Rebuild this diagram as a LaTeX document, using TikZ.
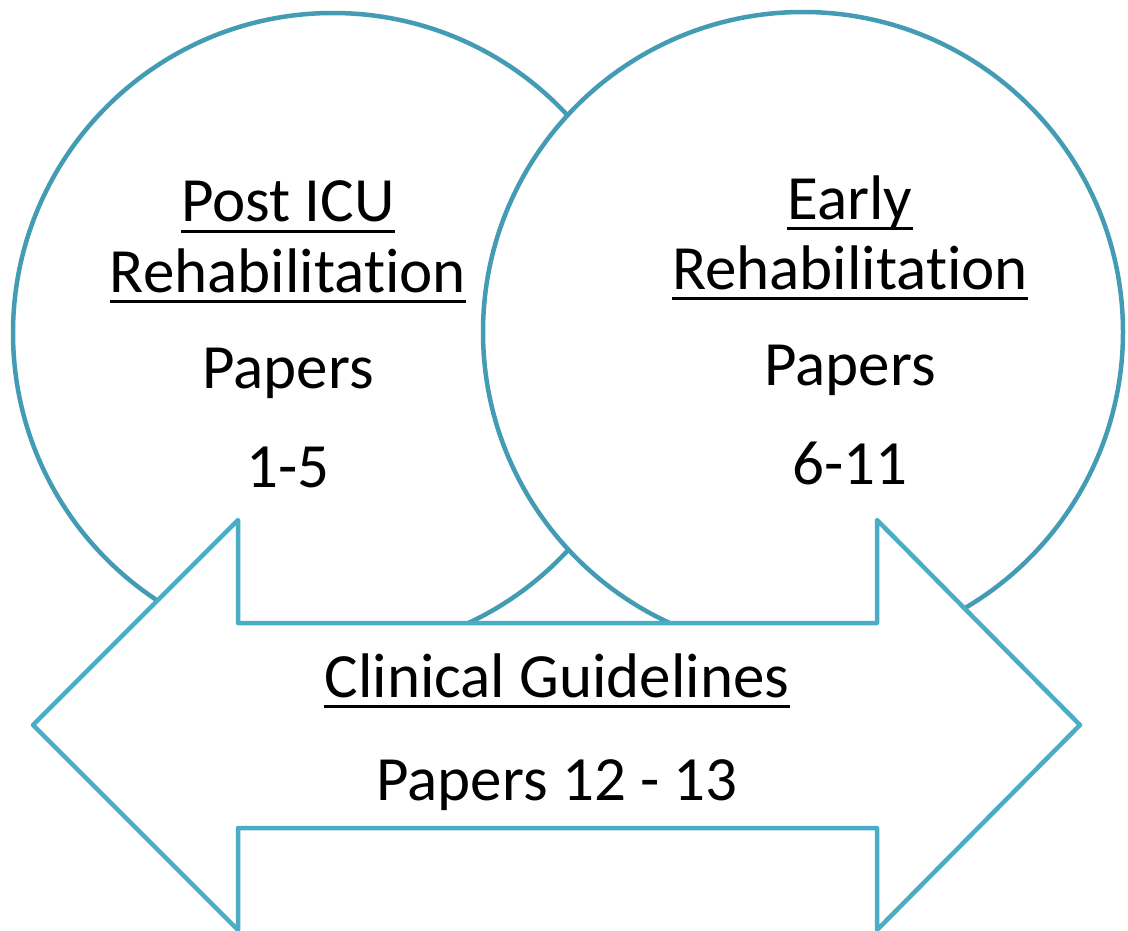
\documentclass[tikz,border=0pt]{standalone}
\usepackage{fontspec}
\setmainfont[Ligatures={NoCommon}]{Carlito}
\usepackage{tikz}
\usetikzlibrary{calc}
\definecolor{cerclecolor}{RGB}{68,155,180}
\definecolor{flechecolor}{RGB}{75,172,198}
\newcommand{\policeTexte}{\fontsize{63}{70}\selectfont}

\begin{document}
\begin{tikzpicture}[x=1pt, y=-1pt,
    cercle/.style={draw=cerclecolor, line width=4.5pt, fill=white},
    fleche/.style={draw=flechecolor, line width=4.5pt, fill=white, line join=round},
    texte/.style={font=\policeTexte, anchor=base, inner sep=0pt},
    souligne/.style={line width=3pt, black}]

% =============================================================================
% CADRE
% =============================================================================
\useasboundingbox (0, 0) rectangle (1128, 931);

% =============================================================================
% CERCLES
% =============================================================================
\draw[cercle] (333, 333) circle (320pt);
\draw[cercle] (803, 332) circle (320pt);

% =============================================================================
% DOUBLE FLECHE
% =============================================================================
\draw[fleche] (33, 725) -- (238, 520) -- (238, 623) -- (877, 623) -- (877, 520)
    -- (1080, 725) -- (877, 930) -- (877, 828) -- (238, 828) -- (238, 930) -- cycle;

% =============================================================================
% TEXTES
% =============================================================================
% Cercle gauche
\node[texte] (titreG1) at (288, 222) {Post ICU};
\node[texte] (titreG2) at (288, 292) {Rehabilitation};
\node[texte] (papiersG) at (288, 388) {Papers};
\node[texte] (numG) at (288, 487) {1-5};

% Cercle droit
\node[texte] (titreD1) at (850, 219) {Early};
\node[texte] (titreD2) at (850, 289) {Rehabilitation};
\node[texte] (papiersD) at (850, 385) {Papers};
\node[texte] (numD) at (850, 484) {6-11};

% Fleche
\node[texte] (titreB) at (557, 697) {Clinical Guidelines};
\node[texte] (papiersB) at (557, 800) {Papers 12 - 13};

% Soulignements
\foreach \n in {titreG1, titreG2, titreD1, titreD2, titreB} {
    \draw[souligne] ([yshift=-9pt]\n.base west) -- ([yshift=-9pt]\n.base east);
}

\end{tikzpicture}
\end{document}
